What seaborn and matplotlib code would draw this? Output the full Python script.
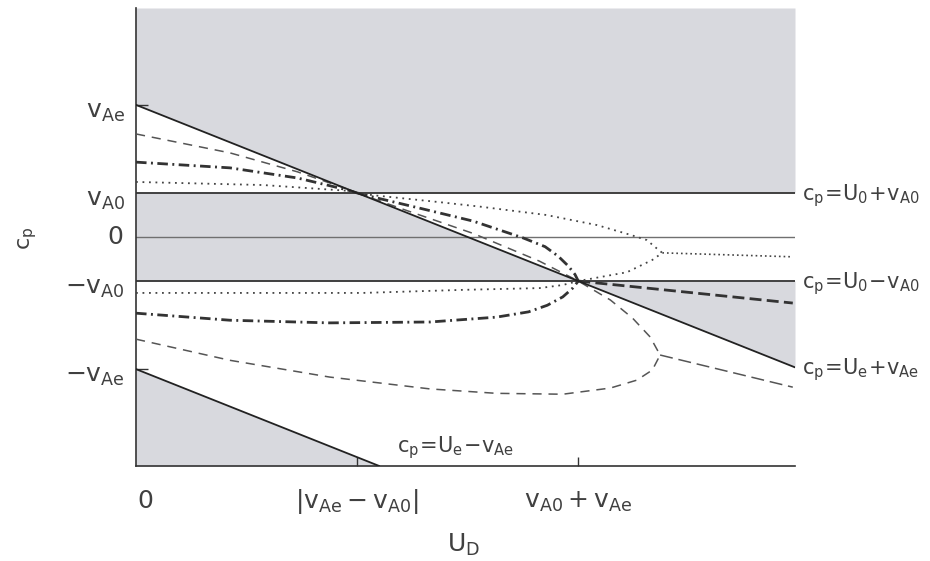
import numpy as np
import pandas as pd
import matplotlib
matplotlib.use("Agg")
import matplotlib.pyplot as plt
import seaborn as sns

# ---- data (units: v_A0 = 1, v_Ae = 3, frame U_0 = 0) ----
V_A0 = 1.0
V_AE = 3.0
X_MAX = 5.96
Y_MIN, Y_MAX = -5.2, 5.2

# boundary lines c_p = U_e + v_Ae and c_p = U_e - v_Ae
bound_upper_x = [0.0, 5.96]
bound_upper_y = [3.0, -2.96]
bound_lower_x = [0.0, 2.2]
bound_lower_y = [-3.0, -5.2]

# horizontal lines c_p = U_0 + v_A0, 0, U_0 - v_A0
hline_y = [1.0, 0.0, -1.0]

# dashed family
dashed_left_x = [0.0, 0.85, 1.46, 1.91, 2.0]
dashed_left_y = [2.34, 1.91, 1.48, 1.09, 1.0]
dashed_upper_x = [2.0, 2.45, 3.05, 3.65, 4.0, 4.29, 4.49, 4.65, 4.74]
dashed_upper_y = [1.0, 0.6, 0.08, -0.55, -1.0, -1.43, -1.84, -2.27, -2.68]
dashed_lower_x = [0.0, 0.85, 1.75, 2.66, 3.26, 3.86, 4.29, 4.53, 4.67, 4.74]
dashed_lower_y = [-2.32, -2.80, -3.18, -3.45, -3.55, -3.57, -3.43, -3.25, -3.02, -2.68]
dashed_merged_x = [4.74, 5.94]
dashed_merged_y = [-2.68, -3.41]

# dash-dot family
dashdot_left_x = [0.0, 0.85, 1.46, 1.91, 2.0]
dashdot_left_y = [1.70, 1.57, 1.34, 1.07, 1.0]
dashdot_upper_x = [2.0, 2.14, 2.59, 3.05, 3.50, 3.70, 3.82, 3.91, 3.97, 4.0]
dashdot_upper_y = [1.0, 0.91, 0.64, 0.36, -0.02, -0.22, -0.44, -0.66, -0.85, -1.0]
dashdot_lower_x = [0.0, 0.85, 1.75, 2.66, 3.26, 3.55, 3.72, 3.86, 3.95, 4.0]
dashdot_lower_y = [-1.73, -1.89, -1.95, -1.93, -1.82, -1.70, -1.55, -1.36, -1.16, -1.0]
dashdot_merged_x = [4.0, 5.94]
dashdot_merged_y = [-1.0, -1.5]

# dotted family
dotted_left_x = [0.0, 1.15, 1.91, 2.0]
dotted_left_y = [1.25, 1.18, 1.05, 1.0]
dotted_upper_x = [2.0, 2.14, 2.75, 3.11, 3.71, 4.17, 4.47, 4.62, 4.71, 4.76]
dotted_upper_y = [1.0, 0.95, 0.79, 0.69, 0.50, 0.27, 0.05, -0.07, -0.26, -0.36]
dotted_lower_x = [0.0, 2.05, 2.96, 3.65, 3.86, 4.0, 4.44, 4.67, 4.76]
dotted_lower_y = [-1.27, -1.27, -1.20, -1.16, -1.09, -1.0, -0.80, -0.52, -0.36]
dotted_merged_x = [4.76, 5.94]
dotted_merged_y = [-0.36, -0.45]

# labels
ytick_vals = [3.0, 1.0, 0.0, -1.0, -3.0]
ytick_labels = [r"$v_{Ae}$", r"$v_{A0}$", "0", r"$-v_{A0}$", r"$-v_{Ae}$"]
xtick_vals = [0.0, 2.0, 4.0]
xtick_labels = ["0", r"$|v_{Ae}-v_{A0}|$", r"$v_{A0}+v_{Ae}$"]
right_labels = [r"$c_p\!=\!U_0\!+\!v_{A0}$", r"$c_p\!=\!U_0\!-\!v_{A0}$", r"$c_p\!=\!U_e\!+\!v_{Ae}$"]
right_label_y = [1.0, -1.0, -2.96]
bottom_label = r"$c_p\!=\!U_e\!-\!v_{Ae}$"

# ---- style ----
sns.set_theme(style="ticks")
plt.rcParams["font.family"] = ["DejaVu Sans"]
plt.rcParams["mathtext.default"] = "regular"

TXT = "#404040"
GRAY = "#d8d9de"

fig = plt.figure(figsize=(9.3, 5.61), dpi=100)
ax = fig.add_axes([136 / 930, 1 - 466 / 561, (795 - 136) / 930, (466 - 8) / 561])
ax.set_xlim(0, X_MAX)
ax.set_ylim(Y_MIN, Y_MAX)

# shaded regions
xs = np.array([0.0, V_AE - V_A0, V_AE + V_A0, X_MAX])
L = np.interp(xs, bound_upper_x, bound_upper_y)
ax.fill_between(xs, np.maximum(L, V_A0), Y_MAX, color=GRAY, lw=0, zorder=0)
ax.fill_between(xs, -V_A0, np.minimum(L, V_A0), color=GRAY, lw=0, zorder=0)
ax.fill_between(bound_lower_x, Y_MIN, bound_lower_y, color=GRAY, lw=0, zorder=0)


def draw(x, y, color, lw, ls, zorder=3, cap="butt"):
    sns.lineplot(x=x, y=y, ax=ax, sort=False, estimator=None, legend=False,
                 color=color, lw=lw, zorder=zorder)
    line = ax.lines[-1]
    line.set_linestyle(ls)
    line.set_dash_capstyle(cap)
    line.set_solid_joinstyle("round")
    line.set_dash_joinstyle("round")


# horizontal lines
draw([0, X_MAX], [hline_y[0]] * 2, "#333333", 1.3, "-", 2)
draw([0, X_MAX], [hline_y[1]] * 2, "#707070", 1.0, "-", 2)
draw([0, X_MAX], [hline_y[2]] * 2, "#333333", 1.3, "-", 2)
# boundary lines
draw(bound_upper_x, bound_upper_y, "#222222", 1.3, "-", 4)
draw(bound_lower_x, bound_lower_y, "#222222", 1.3, "-", 4)

DASH = (0, (6, 4.5))
DASHDOT = (0, (3.8, 1.6, 0.7, 1.6))
DOT = (0, (1.0, 2.6))

for xx, yy in [(dashed_left_x, dashed_left_y), (dashed_upper_x, dashed_upper_y),
               (dashed_lower_x, dashed_lower_y)]:
    draw(xx, yy, "#555555", 1.1, DASH)
draw(dashed_merged_x, dashed_merged_y, "#555555", 1.1, (0, (8.5, 3.8)))

for xx, yy in [(dashdot_left_x, dashdot_left_y), (dashdot_upper_x, dashdot_upper_y),
               (dashdot_lower_x, dashdot_lower_y)]:
    draw(xx, yy, "#333333", 2.0, DASHDOT)
draw(dashdot_merged_x, dashdot_merged_y, "#333333", 2.0, (0, (4.3, 1.9)))

for xx, yy in [(dotted_left_x, dotted_left_y), (dotted_upper_x, dotted_upper_y),
               (dotted_lower_x, dotted_lower_y)]:
    draw(xx, yy, "#444444", 1.3, DOT)
draw(dotted_merged_x, dotted_merged_y, "#444444", 1.2, (0, (1.0, 1.8)))

# spines / ticks
sns.despine(ax=ax)
for s in ["left", "bottom"]:
    ax.spines[s].set_color("#333333")
    ax.spines[s].set_linewidth(1.2)
ax.set_xticks([2.0, 4.0])
ax.set_yticks([-3.0, 3.0])
ax.set_xticklabels([])
ax.set_yticklabels([])
ax.tick_params(axis="x", direction="in", length=6.5, width=1.0, color="#333333")
ax.tick_params(axis="y", direction="in", length=8.5, width=1.0, color="#333333")

# y tick labels
for v, lab in zip(ytick_vals, ytick_labels):
    if lab == "0":
        ax.annotate(lab, xy=(0, v), xycoords=("axes fraction", "data"),
                    xytext=(-13, 0), textcoords="offset pixels",
                    ha="right", va="center", fontsize=18, color=TXT)
    else:
        ax.annotate(lab, xy=(0, v), xycoords=("axes fraction", "data"),
                    xytext=(-11, -13), textcoords="offset pixels",
                    ha="right", va="baseline", fontsize=18, color=TXT)

# x tick labels
for v, lab in zip(xtick_vals, xtick_labels):
    ax.annotate(lab, xy=(v, 0), xycoords=("data", "axes fraction"),
                xytext=(1 if lab == "0" else 0, -42), textcoords="offset pixels",
                ha="left" if lab == "0" else "center", va="baseline",
                fontsize=18, color=TXT)

# axis titles
ax.annotate(r"$U_D$", xy=(2.96, 0), xycoords=("data", "axes fraction"),
            xytext=(0, -86), textcoords="offset pixels",
            ha="center", va="baseline", fontsize=18, color=TXT)
fig.text(28 / 930, 1 - 238 / 561, r"$c_p$", rotation=90, ha="center", va="center",
         fontsize=16, color=TXT)

# right labels
for lab, yv in zip(right_labels, right_label_y):
    ax.annotate(lab, xy=(1, yv), xycoords=("axes fraction", "data"),
                xytext=(7, -7), textcoords="offset pixels",
                ha="left", va="baseline", fontsize=15, color=TXT,
                annotation_clip=False)
ax.text(2.36, -4.89, bottom_label, ha="left", va="baseline", fontsize=15, color=TXT)

fig.savefig("out.png", dpi=100)
